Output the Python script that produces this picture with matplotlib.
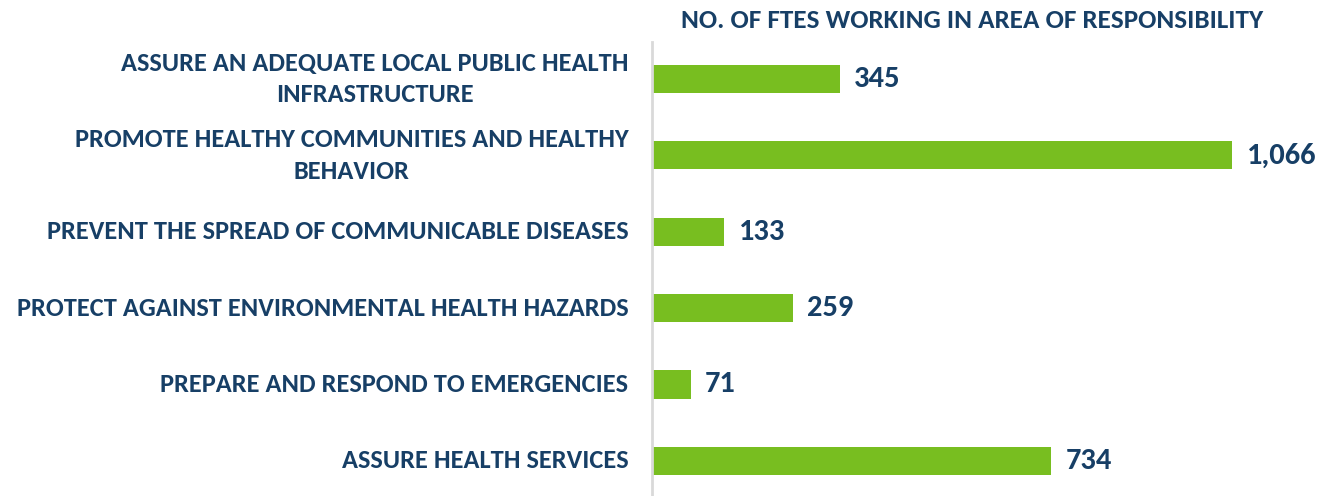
import matplotlib
matplotlib.use("Agg")
import matplotlib.pyplot as plt

# ── Data ───────────────────────────────────────────────────────────────
categories = [
    "ASSURE AN ADEQUATE LOCAL PUBLIC HEALTH\nINFRASTRUCTURE",
    "PROMOTE HEALTHY COMMUNITIES AND HEALTHY\nBEHAVIOR",
    "PREVENT THE SPREAD OF COMMUNICABLE DISEASES",
    "PROTECT AGAINST ENVIRONMENTAL HEALTH HAZARDS",
    "PREPARE AND RESPOND TO EMERGENCIES",
    "ASSURE HEALTH SERVICES",
]
ftes = [345, 1066, 133, 259, 71, 734]
title = "NO. OF FTES WORKING IN AREA OF RESPONSIBILITY"

GREEN = "#78BE20"
NAVY = "#173F66"

plt.rcParams["font.family"] = ["Carlito", "Lato", "DejaVu Sans"]

W, H = 1332, 496
fig = plt.figure(figsize=(W / 100, H / 100), dpi=100)
ax = fig.add_axes([652 / W, 0, 1 - 652 / W, 1 - 42 / H])

y = list(range(len(ftes)))
ax.barh(y, ftes, height=0.37, color=GREEN)
ax.set_xlim(0, 1250)
ax.set_ylim(5.46, -0.484)

for s in ["top", "right", "bottom"]:
    ax.spines[s].set_visible(False)
ax.spines["left"].set_color("#D9D9D9")
ax.spines["left"].set_linewidth(2)
ax.set_xticks([])
ax.set_yticks([])

# value labels
for yi, v in zip(y, ftes):
    ax.annotate(f"{v:,}", (v, yi), xytext=(10.5, 0), textcoords="offset points",
                ha="left", va="center", fontsize=22, fontweight="bold", color=NAVY)

# category labels, right-aligned to the axis, wrapped lines centred
for yi, lab in zip(y, categories):
    ax.annotate(lab, (0, yi), xytext=(-17, 0), textcoords="offset points",
                ha="right", va="center", multialignment="center",
                fontsize=19, fontweight="bold", color=NAVY, linespacing=1.45)

fig.text(972 / W, 1 - 21 / H, title, ha="center", va="center",
         fontsize=19.5, fontweight="bold", color=NAVY)

fig.savefig("out.png", dpi=100, facecolor="white")
